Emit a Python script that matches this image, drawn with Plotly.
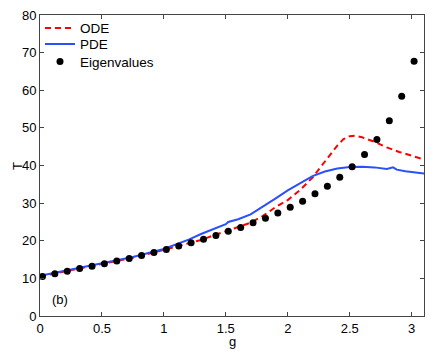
import plotly.graph_objects as go

# ODE curve (red dashed)
ode_g = [0, 0.25, 0.5, 0.75, 1.0, 1.1, 1.2, 1.3, 1.4, 1.5, 1.6, 1.7, 1.8, 1.9,
         2.0, 2.1, 2.2, 2.3, 2.4, 2.45, 2.5, 2.55, 2.6, 2.7, 2.8, 2.9, 3.0, 3.1]
ode_T = [10.5, 12.2, 13.9, 15.5, 17.6, 18.4, 19.2, 20.2, 21.4, 22.6, 23.6, 24.8,
         26.6, 28.9, 30.8, 33.5, 36.8, 41.0, 45.3, 47.0, 47.8, 47.9, 47.5, 46.3,
         44.8, 43.6, 42.6, 41.6]

# PDE curve (blue solid)
pde_g = [0, 0.25, 0.5, 0.75, 1.0, 1.1, 1.2, 1.3, 1.4, 1.5, 1.52, 1.6, 1.7, 1.8,
         1.9, 2.0, 2.1, 2.15, 2.2, 2.3, 2.4, 2.5, 2.6, 2.7, 2.8, 2.85, 2.88,
         2.95, 3.0, 3.1]
pde_T = [10.7, 12.3, 14.0, 15.7, 17.8, 19.0, 20.3, 21.8, 23.0, 24.4, 25.0, 25.7,
         27.0, 29.0, 31.2, 33.4, 35.3, 36.4, 37.2, 38.4, 39.2, 39.6, 39.7, 39.5,
         39.1, 39.5, 38.9, 38.5, 38.3, 37.9]

# eigenvalue points
eig_g = [0.02, 0.12, 0.22, 0.32, 0.42, 0.52, 0.62, 0.72, 0.82, 0.92, 1.02, 1.12,
         1.22, 1.32, 1.42, 1.52, 1.62, 1.72, 1.82, 1.92, 2.02, 2.12, 2.22, 2.32,
         2.42, 2.52, 2.62, 2.72, 2.82, 2.92, 3.02]
eig_T = [10.5, 11.2, 11.9, 12.6, 13.2, 13.9, 14.6, 15.3, 16.1, 16.9, 17.7, 18.6,
         19.5, 20.4, 21.4, 22.5, 23.5, 24.8, 26.0, 27.4, 28.9, 30.5, 32.5, 34.5,
         36.9, 39.7, 42.9, 46.9, 51.9, 58.4, 67.7]

fig = go.Figure()
fig.add_trace(go.Scatter(x=ode_g, y=ode_T, mode="lines", name="ODE", legend="legend2",
                         line=dict(color="#ff0000", width=2, dash="6px,4px")))
fig.add_trace(go.Scatter(x=pde_g, y=pde_T, mode="lines", name="PDE", legend="legend3",
                         line=dict(color="#2a4fff", width=2)))
fig.add_trace(go.Scatter(x=eig_g, y=eig_T, mode="markers", name="Eigenvalues",
                         legend="legend4", marker=dict(color="black", size=7)))

fig.add_annotation(x=0.16, y=4.5, text="(b)", showarrow=False,
                   font=dict(size=13, color="black"))
# axis titles placed by hand, matlab style
fig.add_annotation(x=-0.0586, y=0.5, xref="paper", yref="paper", text="T",
                   xanchor="center", yanchor="middle", textangle=-90,
                   showarrow=False, font=dict(size=13, color="black"))
fig.add_annotation(x=0.5, y=-0.086, xref="paper", yref="paper", text="g",
                   xanchor="center", yanchor="middle",
                   showarrow=False, font=dict(size=13, color="black"))

axis_style = dict(showline=True, mirror="ticks", linecolor="#444444", linewidth=1,
                  ticks="inside", ticklen=4, tickcolor="#444444", showgrid=False,
                  zeroline=False, automargin=False, ticklabeloverflow="allow",
                  tickfont=dict(size=13, color="black"))

fig.update_xaxes(range=[0, 3.1], tickvals=[0, 0.5, 1, 1.5, 2, 2.5, 3],
                 ticktext=["0", "0.5", "1", "1.5", "2", "2.5", "3"], **axis_style)
fig.update_yaxes(range=[0, 80], dtick=10, **axis_style)

# page body has an 8px margin, so the figure is shrunk to fit the window
leg = dict(x=0.0, xanchor="left", yanchor="middle", bgcolor="rgba(0,0,0,0)",
           font=dict(size=13.5), itemwidth=30)
fig.update_layout(
    width=428, height=345,
    margin=dict(l=32, r=12, t=6, b=36.5),
    plot_bgcolor="white", paper_bgcolor="white",
    font=dict(family="Liberation Sans, Arial, sans-serif", color="black"),
    legend2=dict(y=0.953, **leg),
    legend3=dict(y=0.900, **leg),
    legend4=dict(y=0.842, **leg),
)

fig.write_html("out.html")
